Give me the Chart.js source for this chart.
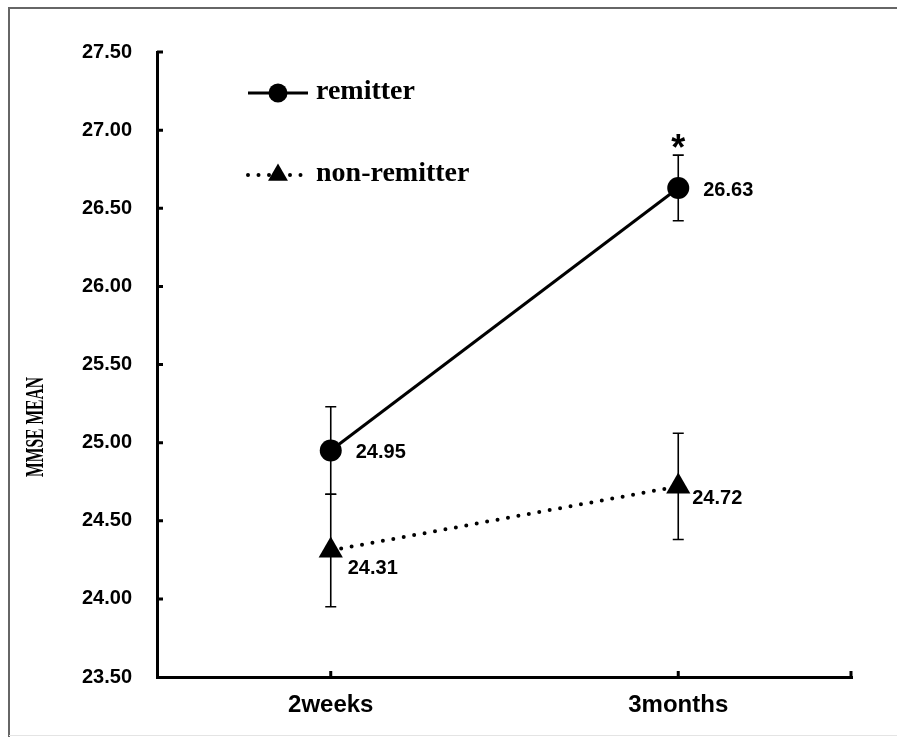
<!DOCTYPE html>
<html>
<head>
<meta charset="utf-8">
<script src="https://cdn.jsdelivr.net/npm/chart.js@4"></script>
<style>
  html, body { margin: 0; padding: 0; background: #fff; overflow: hidden; }
  #wrap { width: 897px; height: 737px; position: relative; }
</style>
</head>
<body>
<div id="wrap"><canvas id="chart" width="897" height="737"></canvas></div>
<script>
// data
const categories = ['2weeks', '3months'];
const remitterMean = [24.95, 26.63];
const remitterErr = [0.28, 0.21];
const nonRemitterMean = [24.31, 24.72];
const nonRemitterErr = [0.36, 0.34];
const yMin = 23.5;
const yMax = 27.5;
const yStep = 0.5;

// label offsets from each point (px), per dataset
const labelOffsets = [
  [[25, 2], [25, 3]],
  [[17, 18], [14, 12]],
];

const sansBold = '"Liberation Sans", Arial, sans-serif';
const serif = '"Liberation Serif", "Times New Roman", serif';

// frame around the figure
const framePlugin = {
  id: 'frame',
  beforeDraw(chart) {
    const ctx = chart.ctx;
    ctx.save();
    ctx.fillStyle = '#fff';
    ctx.fillRect(0, 0, chart.width, chart.height);
    ctx.strokeStyle = '#666';
    ctx.lineWidth = 2;
    ctx.beginPath();
    ctx.moveTo(9, chart.height);
    ctx.lineTo(9, 8);
    ctx.lineTo(chart.width, 8);
    ctx.stroke();
    ctx.strokeStyle = '#e4e4e4';
    ctx.lineWidth = 1;
    ctx.beginPath();
    ctx.moveTo(9, chart.height - 1.5);
    ctx.lineTo(chart.width, chart.height - 1.5);
    ctx.stroke();
    ctx.restore();
  },
};

// error bars under the markers
const errorBarPlugin = {
  id: 'errorBars',
  beforeDatasetsDraw(chart) {
    const ctx = chart.ctx;
    const y = chart.scales.y;
    const errs = [remitterErr, nonRemitterErr];
    ctx.save();
    ctx.strokeStyle = '#000';
    ctx.lineWidth = 1.6;
    chart.data.datasets.forEach((ds, i) => {
      chart.getDatasetMeta(i).data.forEach((pt, j) => {
        const top = y.getPixelForValue(ds.data[j] + errs[i][j]);
        const bot = y.getPixelForValue(ds.data[j] - errs[i][j]);
        ctx.beginPath();
        ctx.moveTo(pt.x, top);
        ctx.lineTo(pt.x, bot);
        ctx.moveTo(pt.x - 5.5, top);
        ctx.lineTo(pt.x + 5.5, top);
        ctx.moveTo(pt.x - 5.5, bot);
        ctx.lineTo(pt.x + 5.5, bot);
        ctx.stroke();
      });
    });
    ctx.restore();
  },
};

// value labels, star, inside ticks, legend and y title
const annotatePlugin = {
  id: 'annotate',
  afterDraw(chart) {
    const ctx = chart.ctx;
    const area = chart.chartArea;
    const xs = chart.scales.x;
    const ys = chart.scales.y;
    ctx.save();

    // inside tick marks
    ctx.strokeStyle = '#000';
    ctx.lineWidth = 3;
    ctx.beginPath();
    for (let v = yMin + yStep; v <= yMax + 1e-9; v += yStep) {
      const py = ys.getPixelForValue(v);
      ctx.moveTo(area.left, py);
      ctx.lineTo(area.left + 6, py);
    }
    categories.forEach((c, i) => {
      const px = xs.getPixelForValue(i);
      ctx.moveTo(px, area.bottom);
      ctx.lineTo(px, area.bottom - 6);
    });
    ctx.moveTo(area.right - 1, area.bottom);
    ctx.lineTo(area.right - 1, area.bottom - 6);
    ctx.stroke();

    // value labels
    ctx.fillStyle = '#000';
    ctx.font = 'bold 20px ' + sansBold;
    ctx.textAlign = 'left';
    ctx.textBaseline = 'middle';
    chart.data.datasets.forEach((ds, i) => {
      chart.getDatasetMeta(i).data.forEach((pt, j) => {
        const off = labelOffsets[i][j];
        ctx.fillText(ds.data[j].toFixed(2), pt.x + off[0], pt.y + off[1]);
      });
    });

    // significance star above 3months remitter
    const starX = xs.getPixelForValue(1);
    const starY = ys.getPixelForValue(remitterMean[1] + remitterErr[1]);
    ctx.font = 'bold 36px ' + sansBold;
    ctx.textAlign = 'center';
    ctx.textBaseline = 'alphabetic';
    ctx.fillText('*', starX, starY + 5);

    // legend
    const lx = area.left + 91;
    const rowY = [area.top + 41, area.top + 123];
    ctx.lineWidth = 3;
    ctx.beginPath();
    ctx.moveTo(lx, rowY[0]);
    ctx.lineTo(lx + 60, rowY[0]);
    ctx.stroke();
    ctx.beginPath();
    ctx.arc(lx + 30, rowY[0], 9.5, 0, Math.PI * 2);
    ctx.fill();

    ctx.save();
    ctx.lineWidth = 4;
    ctx.lineCap = 'round';
    ctx.setLineDash([0, 10.5]);
    ctx.beginPath();
    ctx.moveTo(lx, rowY[1]);
    ctx.lineTo(lx + 60, rowY[1]);
    ctx.stroke();
    ctx.restore();
    const tr = 11.5;
    ctx.beginPath();
    ctx.moveTo(lx + 30, rowY[1] - tr);
    ctx.lineTo(lx + 30 + tr * 0.866, rowY[1] + tr * 0.5);
    ctx.lineTo(lx + 30 - tr * 0.866, rowY[1] + tr * 0.5);
    ctx.closePath();
    ctx.fill();

    ctx.font = 'bold 28px ' + serif;
    ctx.textAlign = 'left';
    ctx.textBaseline = 'middle';
    ctx.fillText('remitter', lx + 68, rowY[0] - 1);
    ctx.fillText('non-remitter', lx + 68, rowY[1] - 1);

    // y axis title, condensed serif
    ctx.translate(36, 427);
    ctx.rotate(-Math.PI / 2);
    ctx.scale(0.6, 1);
    ctx.font = 'bold 26px ' + serif;
    ctx.textAlign = 'center';
    ctx.textBaseline = 'middle';
    ctx.fillText('MMSE MEAN', 0, 0);

    ctx.restore();
  },
};

new Chart(document.getElementById('chart'), {
  type: 'line',
  data: {
    labels: categories,
    datasets: [
      {
        label: 'remitter',
        data: remitterMean,
        borderColor: '#000',
        backgroundColor: '#000',
        borderWidth: 3,
        pointStyle: 'circle',
        pointRadius: 11,
        pointBorderWidth: 0,
        pointBackgroundColor: '#000',
        tension: 0,
        fill: false,
      },
      {
        label: 'non-remitter',
        data: nonRemitterMean,
        borderColor: '#000',
        backgroundColor: '#000',
        borderWidth: 4,
        borderDash: [0, 10.6],
        borderCapStyle: 'round',
        pointStyle: 'triangle',
        pointRadius: 14,
        pointBorderWidth: 0,
        pointBackgroundColor: '#000',
        tension: 0,
        fill: false,
      },
    ],
  },
  options: {
    responsive: false,
    animation: false,
    layout: {
      padding: { left: 0, top: 52, right: 45, bottom: 0 },
    },
    plugins: {
      legend: { display: false },
      tooltip: { enabled: false },
    },
    scales: {
      x: {
        offset: true,
        grid: { display: false, drawTicks: false },
        border: { display: true, color: '#000', width: 3 },
        ticks: {
          color: '#000',
          padding: 14,
          font: { family: sansBold, size: 24, weight: 'bold' },
        },
        afterFit(scale) {
          scale.height = 60;
        },
      },
      y: {
        min: yMin,
        max: yMax,
        grid: { display: false, drawTicks: false },
        border: { display: true, color: '#000', width: 3 },
        ticks: {
          stepSize: yStep,
          color: '#000',
          padding: 25,
          font: { family: sansBold, size: 20, weight: 'bold' },
          callback: value => value.toFixed(2),
        },
        afterFit(scale) {
          scale.width = 157;
        },
      },
    },
  },
  plugins: [framePlugin, errorBarPlugin, annotatePlugin],
});
</script>
</body>
</html>
